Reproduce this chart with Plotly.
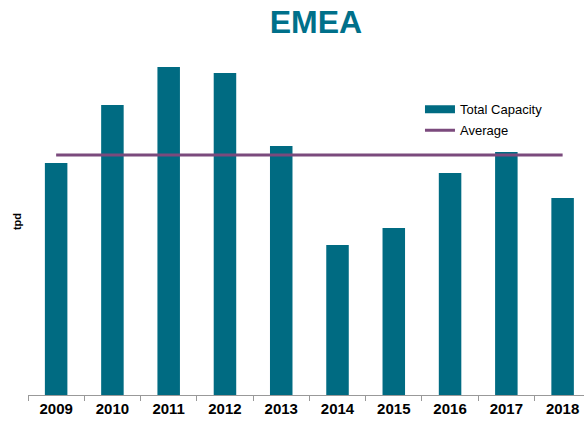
import plotly.graph_objects as go

years = ["2009", "2010", "2011", "2012", "2013", "2014", "2015", "2016", "2017", "2018"]
capacity = [232, 290, 328, 322, 249, 150, 167, 222, 243, 197]
average = sum(capacity) / len(capacity)
avg_line = [average] * len(years)

teal = "#006B82"
purple = "#7B4A7D"
font_family = "Liberation Sans, Arial, sans-serif"

fig = go.Figure()
fig.add_trace(go.Bar(x=years, y=capacity, name="Total Capacity", showlegend=False,
                     marker=dict(color=teal, line=dict(width=0)), width=0.4))
# legend entry for bars, drawn as a wide swatch
fig.add_trace(go.Scatter(x=[None], y=[None], name="Total Capacity", mode="lines",
                         line=dict(color=teal, width=8), legendgroup="a"))
fig.add_trace(go.Scatter(x=years, y=avg_line, name="Average", mode="lines",
                         line=dict(color=purple, width=3), legendgroup="b"))

fig.update_layout(
    width=584, height=426,
    margin=dict(l=28, r=0, t=40, b=31),
    paper_bgcolor="white", plot_bgcolor="white",
    font=dict(family=font_family, color="black"),
    title=dict(text="<b>EMEA</b>", x=0.541, xanchor="center", y=0.948, yanchor="middle",
               font=dict(size=32, color="#00708A")),
    showlegend=True,
    legend=dict(x=0.705, y=0.847, xanchor="left", yanchor="top",
                font=dict(size=13, color="black"), bgcolor="rgba(0,0,0,0)",
                tracegroupgap=1, itemwidth=30),
    annotations=[dict(text="<b>tpd</b>", xref="paper", yref="paper",
                      x=-0.0198, y=0.49, xanchor="center", yanchor="middle",
                      textangle=-90, showarrow=False,
                      font=dict(size=11, color="black"))],
)
fig.update_xaxes(
    type="category", range=[-0.5, 9.38],
    showline=True, linecolor="#999999", linewidth=1,
    ticks="outside", tickson="boundaries", ticklen=5, tickcolor="#999999",
    tickfont=dict(size=15, color="black", family=font_family),
    tickprefix="<b>", ticksuffix="</b>",
    showgrid=False,
)
fig.update_yaxes(
    range=[0, 355], showticklabels=False, showgrid=False, zeroline=False,
    showline=False,
)
fig.write_html("out.html", config={"displayModeBar": False},
               post_script="document.body.style.margin='0';")
